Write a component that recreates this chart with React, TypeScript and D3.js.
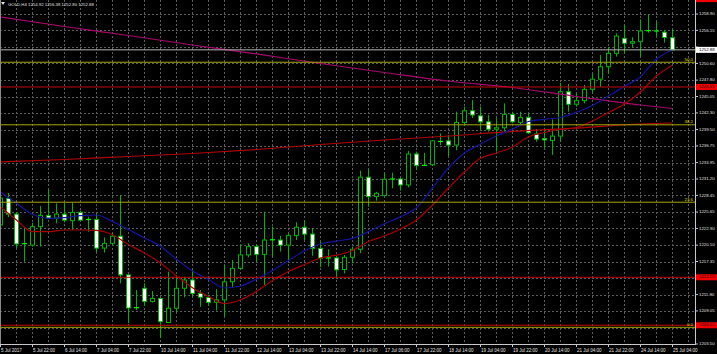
import * as d3 from "d3"

// GOLD H4 bars, 5 Jul – 25 Jul 2017
const dates = [
  "5 Jul 2017", "5 Jul 22:00", "6 Jul 14:00", "7 Jul 04:00", "7 Jul 22:00", "10 Jul 14:00",
  "11 Jul 04:00", "11 Jul 22:00", "12 Jul 14:00", "13 Jul 04:00", "13 Jul 22:00", "14 Jul 14:00",
  "17 Jul 06:00", "17 Jul 22:00", "18 Jul 14:00", "19 Jul 04:00", "19 Jul 22:00", "20 Jul 14:00",
  "21 Jul 04:00", "21 Jul 22:00", "24 Jul 14:00", "25 Jul 04:00",
]

const opens = [
  1223.5, 1227.95, 1225.3, 1220.3, 1220.1, 1223.2, 1225.05, 1224.65, 1225.3, 1224.2,
  1225.6, 1224.45, 1224.4, 1219.6, 1220.4, 1221.6, 1215.1, 1209.55, 1212.85, 1210.65,
  1211.15, 1207.1, 1209.5, 1212.85, 1214.25, 1212.0, 1211.3, 1210.5, 1210.9, 1213.95,
  1216.2, 1218.45, 1219.85, 1218.55, 1220.95, 1220.95, 1220.1, 1221.7, 1223.1, 1221.95,
  1219.55, 1217.9, 1217.95, 1216.0, 1218.05, 1219.4, 1231.5, 1228.25, 1228.4, 1231.15,
  1231.2, 1230.2, 1235.4, 1233.45, 1233.6, 1237.6, 1237.6, 1236.9, 1240.7, 1242.65,
  1241.8, 1240.8, 1239.55, 1239.8, 1242.05, 1240.7, 1241.55, 1238.75, 1238.0, 1237.65,
  1238.4, 1245.85, 1243.75, 1244.35, 1246.25, 1247.95, 1250.05, 1252.3, 1254.8, 1254.0,
  1254.25, 1256.05, 1256.1, 1255.85, 1254.92,
]
const highs = [
  1228.5, 1228.85, 1225.65, 1223.0, 1223.85, 1226.65, 1229.35, 1227.1, 1227.2, 1227.2,
  1225.9, 1224.85, 1225.55, 1221.4, 1222.1, 1228.5, 1215.15, 1212.55, 1213.7, 1212.4,
  1211.2, 1215.65, 1215.1, 1214.8, 1216.05, 1212.55, 1211.75, 1212.7, 1216.75, 1217.6,
  1220.25, 1220.4, 1220.25, 1225.7, 1223.2, 1221.65, 1222.1, 1223.95, 1224.3, 1222.95,
  1220.7, 1219.4, 1218.3, 1218.45, 1219.85, 1232.6, 1232.85, 1229.05, 1232.15, 1232.25,
  1231.5, 1235.9, 1235.8, 1235.6, 1237.75, 1238.85, 1238.6, 1242.5, 1243.35, 1244.45,
  1243.35, 1241.95, 1241.4, 1243.9, 1242.5, 1242.5, 1242.25, 1239.6, 1239.8, 1241.2,
  1247.35, 1247.15, 1245.6, 1247.0, 1248.95, 1252.0, 1253.3, 1255.65, 1257.05, 1255.0,
  1258.0, 1258.75, 1257.6, 1256.2, 1256.38,
]
const lows = [
  1223.1, 1224.8, 1219.6, 1217.3, 1219.85, 1219.85, 1224.45, 1223.75, 1223.9, 1222.65,
  1224.2, 1222.35, 1218.95, 1218.85, 1220.05, 1213.7, 1207.0, 1209.2, 1209.9, 1210.45,
  1204.5, 1207.05, 1208.9, 1211.35, 1211.45, 1209.75, 1209.9, 1209.1, 1208.1, 1213.1,
  1215.95, 1218.05, 1217.3, 1213.4, 1218.15, 1219.0, 1217.6, 1220.95, 1220.95, 1218.3,
  1216.4, 1216.5, 1214.55, 1215.35, 1217.05, 1218.75, 1226.55, 1227.55, 1228.35, 1229.65,
  1229.25, 1229.8, 1232.7, 1233.4, 1233.4, 1236.9, 1235.05, 1236.05, 1240.15, 1241.45,
  1239.45, 1239.15, 1235.8, 1239.15, 1240.55, 1240.25, 1238.75, 1237.45, 1236.35, 1235.25,
  1237.45, 1242.5, 1243.35, 1243.9, 1245.6, 1246.7, 1248.85, 1251.75, 1252.3, 1253.3,
  1251.75, 1255.75, 1255.1, 1254.1, 1252.8,
]
const closes = [
  1228.0, 1225.3, 1220.3, 1220.35, 1223.2, 1225.1, 1224.65, 1225.3, 1224.3, 1225.6,
  1224.3, 1224.4, 1219.6, 1220.4, 1221.6, 1215.1, 1209.55, 1209.6, 1210.65, 1211.15,
  1207.25, 1209.5, 1212.85, 1214.25, 1212.0, 1211.35, 1210.5, 1210.9, 1213.95, 1216.2,
  1218.45, 1219.85, 1218.55, 1220.95, 1221.0, 1220.1, 1221.7, 1223.1, 1221.95, 1219.55,
  1217.9, 1217.95, 1215.95, 1218.05, 1219.4, 1231.5, 1228.25, 1228.8, 1231.15, 1231.2,
  1230.2, 1235.4, 1233.45, 1233.5, 1237.6, 1237.5, 1236.9, 1240.7, 1242.65, 1241.95,
  1240.8, 1239.55, 1239.8, 1242.05, 1240.8, 1241.55, 1238.95, 1237.9, 1237.75, 1238.4,
  1245.85, 1243.75, 1244.35, 1246.25, 1247.95, 1250.05, 1252.3, 1255.2, 1254.0, 1254.25,
  1256.05, 1256.1, 1256.05, 1254.95, 1252.88,
]

// fast moving averages, read every 2 bars
const blueMA = [
  1229.07, 1227.12, 1225.27, 1224.6, 1224.7, 1225.04, 1225.16, 1224.08, 1222.71, 1221.3,
  1219.9, 1217.74, 1215.76, 1214.33, 1212.9, 1213.24, 1214.38, 1215.84, 1217.52, 1219.15,
  1220.29, 1220.78, 1221.23, 1222.37, 1223.66, 1224.84, 1226.37, 1229.69, 1233.05, 1235.57,
  1237.08, 1238.42, 1239.59, 1240.85, 1241.22, 1241.53, 1242.4, 1243.54, 1245.13, 1246.76,
  1248.37, 1251.35, 1252.86,
]
const redMA = [
  1226.55, 1224.32, 1222.35, 1222.35, 1222.64, 1222.64, 1222.56, 1221.83, 1220.19, 1218.78,
  1217.1, 1214.92, 1212.94, 1211.48, 1210.3, 1210.89, 1212.32, 1214.16, 1215.67, 1216.85,
  1217.94, 1218.41, 1219.2, 1220.71, 1221.63, 1222.81, 1224.32, 1226.84, 1229.69, 1232.38,
  1234.68, 1235.57, 1236.57, 1238.25, 1239.01, 1239.51, 1239.85, 1240.94, 1242.36, 1243.79,
  1245.81, 1248.49, 1250.34,
]
// slow moving averages, read every 8 bars
const slowBars = [0, 8, 16, 24, 32, 40, 48, 56, 64, 72, 80, 84]
const magentaMA = [1258.4, 1256.8, 1255.29, 1253.7, 1252.19, 1250.59, 1249.08, 1247.65, 1246.56, 1245.05, 1243.62, 1243.04]
const slowRedMA = [1234.06, 1234.47, 1234.98, 1235.48, 1236.15, 1236.99, 1237.75, 1238.42, 1239.18, 1239.73, 1240.43, 1240.6]

const priceTicks = [
  "1258.90", "1256.15", "1253.35", "1250.60", "1247.80", "1245.05", "1242.30", "1239.50",
  "1236.75", "1233.95", "1231.20", "1228.45", "1225.65", "1222.90", "1220.10", "1217.35",
  "1214.55", "1211.80", "1209.05", "1206.25", "1203.50",
]

const fibLow = 1206.3
const fibHigh = 1295.3
const fibLevels = [0, 23.6, 38.2, 50]
const redLevels = [1246.65, 1214.7, 1206.65]
const offTopLevel = 1261.4 // red line above the window, only its label edge shows
const lastPrice = 1252.88

const W = 717
const H = 354
const PR = 695 // plot right edge
const PB = 344 // plot bottom edge

const GRID = "#5c5c5c"
const WICK = "#00b400"
const DOJI = "#00ff00"
const TXT = "#e0e0e0"
const FONT = "'Liberation Sans', Arial, sans-serif"

export default function App() {
  const x = d3.scaleLinear().domain([0, 1]).range([0.5, 8.5])
  const y = d3.scaleLinear().domain([1203.5, 1258.9]).range([PB, 14])

  const fastLine = d3
    .line<number>()
    .x((_, i) => x(i * 2))
    .y((d) => y(d))
    .curve(d3.curveMonotoneX)
  const slowLine = d3
    .line<number>()
    .x((_, i) => x(slowBars[i]))
    .y((d) => y(d))
    .curve(d3.curveMonotoneX)

  const vGrid = d3.range(0, 87, 2)
  const labelBars = dates.map((_, i) => i * 4)

  // axis labels hidden behind the level boxes
  const boxed = [...redLevels, lastPrice]
  const visibleTicks = priceTicks.filter((t) => boxed.every((p) => Math.abs(y(+t) - y(p)) > 5))

  return (
    <div style={{ position: "fixed", left: 0, top: 0, width: W, height: H, background: "#000" }}>
      <svg width={W} height={H} style={{ display: "block" }} fontFamily={FONT}>
        <defs>
          <clipPath id="plot">
            <rect x={0} y={0} width={PR} height={PB} />
          </clipPath>
        </defs>
        <rect width={W} height={H} fill="#000" />

        <g clipPath="url(#plot)">
          {/* grid */}
          {priceTicks.map((t) => (
            <line key={"h" + t} x1={0} x2={PR} y1={Math.round(y(+t)) + 0.5} y2={Math.round(y(+t)) + 0.5}
              stroke={GRID} strokeWidth={1} strokeDasharray="2 2" />
          ))}
          {vGrid.map((b) => (
            <line key={"v" + b} x1={x(b)} x2={x(b)} y1={0} y2={PB} stroke={GRID} strokeWidth={1} strokeDasharray="2 2" />
          ))}

          {/* candles */}
          {opens.map((o, i) => {
            const c = closes[i]
            const cx = x(i)
            const doji = Math.abs(o - c) < 0.12
            const top = y(Math.max(o, c))
            const h = Math.max(Math.abs(y(o) - y(c)), 0.8)
            return (
              <g key={"c" + i}>
                <line x1={cx} x2={cx} y1={y(highs[i])} y2={y(lows[i])} stroke={WICK} strokeWidth={1} />
                {doji ? (
                  <line x1={cx - 2.5} x2={cx + 2.5} y1={y(c)} y2={y(c)} stroke={DOJI} strokeWidth={1.2} />
                ) : (
                  <rect x={cx - 2} y={top} width={4} height={h} fill={c > o ? "#000" : "#fff"} stroke={WICK} strokeWidth={1} />
                )}
              </g>
            )
          })}

          {/* moving averages */}
          <path d={slowLine(magentaMA) ?? ""} fill="none" stroke="#a8086c" strokeWidth={1.2} />
          <path d={slowLine(slowRedMA) ?? ""} fill="none" stroke="#b00000" strokeWidth={1.2} />
          <path d={fastLine(blueMA) ?? ""} fill="none" stroke="#1414a0" strokeWidth={1.2} />
          <path d={fastLine(redMA) ?? ""} fill="none" stroke="#a80000" strokeWidth={1.2} />

          {/* horizontal levels */}
          {redLevels.map((p) => (
            <line key={"r" + p} x1={0} x2={PR} y1={y(p)} y2={y(p)} stroke="#c80000" strokeWidth={1} />
          ))}
          {fibLevels.map((f) => {
            const p = fibLow + ((fibHigh - fibLow) * f) / 100
            return (
              <g key={"f" + f}>
                <line x1={0} x2={PR} y1={y(p)} y2={y(p)} stroke="#a8a800" strokeWidth={1} />
                <text x={693} y={y(p) - 1.5} textAnchor="end" fontSize={4.4} fill="#dcdc00">
                  {f.toFixed(1)}
                </text>
              </g>
            )
          })}
          <line x1={0} x2={PR} y1={y(lastPrice)} y2={y(lastPrice)} stroke="#b8b8b8" strokeWidth={1} />
        </g>

        {/* frame */}
        <line x1={0.5} x2={0.5} y1={0} y2={PB} stroke="#8a8a8a" strokeWidth={1} />
        <line x1={PR + 0.5} x2={PR + 0.5} y1={0} y2={PB + 1} stroke="#c8c8c8" strokeWidth={1} />
        <line x1={0} x2={PR + 1} y1={PB + 0.5} y2={PB + 0.5} stroke="#c8c8c8" strokeWidth={1} />

        {/* price axis */}
        {priceTicks.map((t) => (
          <line key={"pk" + t} x1={PR} x2={PR + 3} y1={y(+t)} y2={y(+t)} stroke="#c8c8c8" />
        ))}
        {visibleTicks.map((t) => (
          <text key={"pt" + t} x={699} y={y(+t)} dominantBaseline="middle" fontSize={4.3} fill={TXT}>
            {t}
          </text>
        ))}
        <rect x={PR + 1} y={y(offTopLevel) - 3} width={W - PR - 1} height={6} fill="#f00000" />
        {redLevels.map((p) => (
          <g key={"rb" + p}>
            <rect x={PR + 1} y={y(p) - 3} width={W - PR - 1} height={6} fill="#f00000" />
            <text x={699} y={y(p)} dominantBaseline="middle" fontSize={4.3} fill="#2a0000">
              {p.toFixed(2)}
            </text>
          </g>
        ))}
        <rect x={PR + 1} y={y(lastPrice) - 3} width={W - PR - 1} height={6} fill="#fff" />
        <text x={699} y={y(lastPrice)} dominantBaseline="middle" fontSize={4.3} fill="#000">
          {lastPrice.toFixed(2)}
        </text>

        {/* time axis */}
        {labelBars.map((b, i) => (
          <g key={"d" + b}>
            <line x1={x(b)} x2={x(b)} y1={PB} y2={PB + 3} stroke="#c8c8c8" />
            <text x={x(b) + 0.5} y={351.5} fontSize={4.5} fill={TXT}>
              {dates[i]}
            </text>
          </g>
        ))}

        {/* title */}
        <path d="M1,2 L5,2 L3,5 Z" fill={TXT} />
        <text x={8} y={5.5} fontSize={4.3} fill={TXT}>
          GOLD,H4  {[opens[84], highs[84], lows[84], closes[84]].map((v) => v.toFixed(2)).join(" ")}
        </text>
      </svg>
    </div>
  )
}
